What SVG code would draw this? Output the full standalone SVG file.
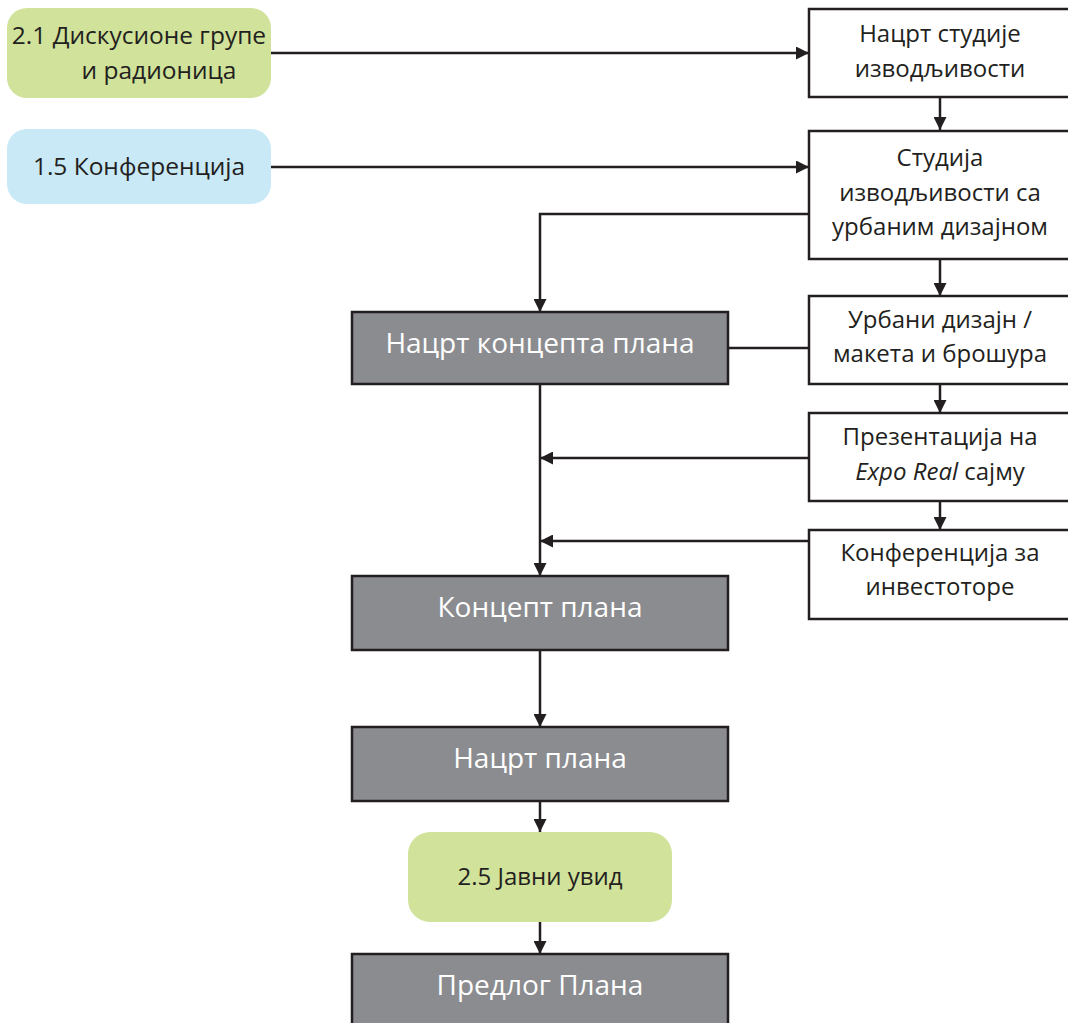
<svg xmlns="http://www.w3.org/2000/svg" width="1068" height="1023" viewBox="0 0 1068 1023">
<defs>
<marker id="ah" viewBox="0 0 10 10" refX="10" refY="5" markerWidth="13" markerHeight="13" markerUnits="userSpaceOnUse" orient="auto">
<path d="M0,0 L10,5 L0,10 Z" fill="#231f20"/>
</marker>
<style>
.conn{stroke:#231f20;stroke-width:2.5;fill:none}
.wbox{fill:#fff;stroke:#231f20;stroke-width:2.5}
.gbox{fill:#8b8c90;stroke:#231f20;stroke-width:2.5}
.green{fill:#d1e29b}
.blue{fill:#c9e9f6}
.t{font-family:"Open Sans","Noto Sans",sans-serif;fill:#231f20;text-anchor:middle}
.tw{font-family:"Open Sans","Noto Sans",sans-serif;fill:#fff;text-anchor:middle;font-size:28px}
.r{font-size:24px}
</style>
</defs>
<g id="connectors">
<line class="conn" x1="271" y1="53" x2="809" y2="53" marker-end="url(#ah)"/>
<line class="conn" x1="271" y1="167" x2="809" y2="167" marker-end="url(#ah)"/>
<line class="conn" x1="940" y1="97" x2="940" y2="130" marker-end="url(#ah)"/>
<polyline class="conn" points="809,214 540,214 540,312" marker-end="url(#ah)"/>
<line class="conn" x1="940" y1="259" x2="940" y2="296" marker-end="url(#ah)"/>
<line class="conn" x1="729" y1="348" x2="809" y2="348"/>
<line class="conn" x1="940" y1="384" x2="940" y2="413" marker-end="url(#ah)"/>
<line class="conn" x1="809" y1="458" x2="540" y2="458" marker-end="url(#ah)"/>
<line class="conn" x1="940" y1="501" x2="940" y2="530" marker-end="url(#ah)"/>
<line class="conn" x1="809" y1="541" x2="540" y2="541" marker-end="url(#ah)"/>
<line class="conn" x1="540" y1="384" x2="540" y2="576" marker-end="url(#ah)"/>
<line class="conn" x1="540" y1="650" x2="540" y2="727" marker-end="url(#ah)"/>
<line class="conn" x1="540" y1="801" x2="540" y2="832" marker-end="url(#ah)"/>
<line class="conn" x1="540" y1="922" x2="540" y2="954" marker-end="url(#ah)"/>
</g>
<g id="n-discussion">
<rect class="green" x="7" y="8" width="264" height="90" rx="20"/>
<text class="t" style="font-size:24.5px"><tspan x="139" y="44">2.1 Дискусионе групе</tspan><tspan x="159" y="79">и радионица</tspan></text>
</g>
<g id="n-conference15">
<rect class="blue" x="7" y="129" width="264" height="75" rx="20"/>
<text class="t" x="139" y="175" style="font-size:24.5px">1.5 Конференција</text>
</g>
<g id="n-draft-study">
<rect class="wbox" x="809" y="9" width="266" height="88"/>
<text class="t r"><tspan x="940" y="42">Нацрт студије</tspan><tspan x="940" y="77">изводљивости</tspan></text>
</g>
<g id="n-study">
<rect class="wbox" x="809" y="131" width="266" height="128"/>
<text class="t r"><tspan x="940" y="166">Студија</tspan><tspan x="940" y="201">изводљивости са</tspan><tspan x="940" y="235">урбаним дизајном</tspan></text>
</g>
<g id="n-urban">
<rect class="wbox" x="809" y="296" width="266" height="88"/>
<text class="t r"><tspan x="940" y="328">Урбани дизајн /</tspan><tspan x="940" y="362">макета и брошура</tspan></text>
</g>
<g id="n-expo">
<rect class="wbox" x="809" y="413" width="266" height="88"/>
<text class="t r"><tspan x="940" y="445">Презентација на</tspan><tspan x="940" y="480"><tspan font-style="italic">Expo Real</tspan> сајму</tspan></text>
</g>
<g id="n-investors">
<rect class="wbox" x="809" y="530" width="266" height="89"/>
<text class="t r"><tspan x="940" y="561">Конференција за</tspan><tspan x="940" y="595">инвестоторе</tspan></text>
</g>
<g id="n-draft-concept">
<rect class="gbox" x="352" y="312" width="376" height="72"/>
<text class="tw" x="540" y="353">Нацрт концепта плана</text>
</g>
<g id="n-concept">
<rect class="gbox" x="352" y="576" width="376" height="74"/>
<text class="tw" x="540" y="617">Концепт плана</text>
</g>
<g id="n-draft-plan">
<rect class="gbox" x="352" y="727" width="376" height="74"/>
<text class="tw" x="540" y="768">Нацрт плана</text>
</g>
<g id="n-public">
<rect class="green" x="408" y="832" width="264" height="90" rx="22"/>
<text class="t" x="540" y="885" style="font-size:24px">2.5 Јавни увид</text>
</g>
<g id="n-proposal">
<rect class="gbox" x="352" y="954" width="376" height="80"/>
<text class="tw" x="540" y="995">Предлог Плана</text>
</g>
</svg>
